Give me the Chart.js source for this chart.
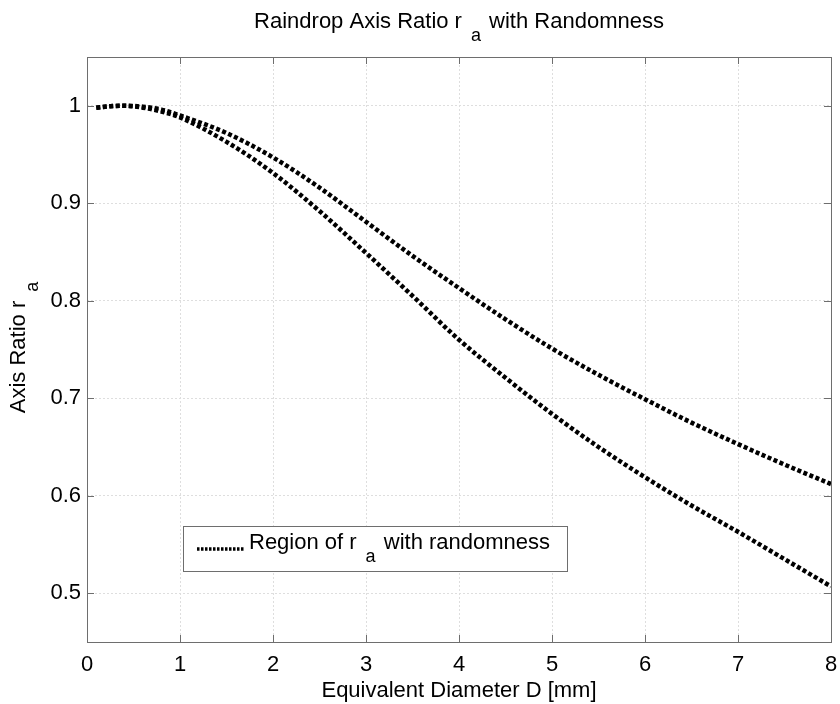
<!DOCTYPE html>
<html>
<head>
<meta charset="utf-8">
<script src="https://cdn.jsdelivr.net/npm/chart.js@4.4.1/dist/chart.umd.min.js"></script>
<style>
  html, body { margin: 0; padding: 0; background: #ffffff; }
  #wrap { width: 840px; height: 704px; }
</style>
</head>
<body>
<div id="wrap"><canvas id="c" width="840" height="704"></canvas></div>
<script>
// Equivalent diameter D [mm]
const diam = [0.1, 0.25, 0.4, 0.6, 0.8, 1.0, 1.5, 2.0, 2.5, 3.0, 3.5, 4.0, 4.5, 5.0, 5.5, 6.0, 6.5, 7.0, 7.5, 8.0];
// Upper bound of the axis ratio r_a
const upperRa = [0.998, 0.9995, 1.000, 0.999, 0.996, 0.990, 0.972, 0.947, 0.916, 0.881, 0.846, 0.813, 0.781, 0.751, 0.724, 0.699, 0.675, 0.653, 0.632, 0.612];
// Lower bound of the axis ratio r_a
const lowerRa = [0.998, 0.9995, 1.000, 0.998, 0.994, 0.988, 0.963, 0.931, 0.892, 0.849, 0.805, 0.760, 0.721, 0.684, 0.650, 0.619, 0.590, 0.563, 0.535, 0.507];

const xTicks = [0, 1, 2, 3, 4, 5, 6, 7, 8];
const yTicks = [0.5, 0.6, 0.7, 0.8, 0.9, 1];

const FONT = '"Liberation Sans", Arial, Helvetica, sans-serif';
const FS = 22;        // main text size
const SUB_FS = 18;    // subscript size
const SUB_DY = 13;    // subscript baseline drop
const SUB_PRE = 9;    // space before a subscript
const SUB_POST = 2;   // space after a subscript

function pts(xs, ys) { return xs.map((x, i) => ({ x: x, y: ys[i] })); }

const lineStyle = {
  borderColor: '#000000',
  borderWidth: 4.5,
  borderDash: [4, 2.5],
  pointRadius: 0,
  fill: false,
  cubicInterpolationMode: 'monotone'
};

// Text made of normal and subscript runs (TeX-like r_a)
function layoutRuns(ctx, runs) {
  let w = 0;
  const out = [];
  runs.forEach((r, i) => {
    if (r.sub) w += SUB_PRE;
    ctx.font = (r.sub ? SUB_FS : FS) + 'px ' + FONT;
    out.push({ t: r.t, sub: !!r.sub, x: w });
    w += ctx.measureText(r.t).width;
    if (r.sub && i < runs.length - 1) w += SUB_POST;
  });
  return { items: out, width: w };
}
function drawRuns(ctx, runs, x, y) {
  const l = layoutRuns(ctx, runs);
  ctx.textAlign = 'left';
  ctx.textBaseline = 'alphabetic';
  l.items.forEach(it => {
    ctx.font = (it.sub ? SUB_FS : FS) + 'px ' + FONT;
    ctx.fillText(it.t, x + it.x, it.sub ? y + SUB_DY : y);
  });
  return l.width;
}
function runsWidth(ctx, runs) { return layoutRuns(ctx, runs).width; }

const titleRuns = [{ t: 'Raindrop Axis Ratio r' }, { t: 'a', sub: true }, { t: ' with Randomness' }];
const yTitleRuns = [{ t: 'Axis Ratio r' }, { t: 'a', sub: true }];
const xTitleRuns = [{ t: 'Equivalent Diameter D [mm]' }];
const legendRuns = [{ t: 'Region of r' }, { t: 'a', sub: true }, { t: ' with randomness' }];

const decor = {
  id: 'decor',
  afterDraw(chart) {
    const ctx = chart.ctx;
    const a = chart.chartArea;
    const xs = chart.scales.x, ys = chart.scales.y;
    ctx.save();
    // axes box
    ctx.strokeStyle = '#6e6e6e';
    ctx.lineWidth = 1;
    ctx.setLineDash([]);
    ctx.strokeRect(Math.round(a.left) + 0.5, Math.round(a.top) + 0.5,
                   Math.round(a.right - a.left), Math.round(a.bottom - a.top));
    // inward tick marks on all four sides
    const tl = 7;
    ctx.beginPath();
    xTicks.forEach(v => {
      const px = Math.round(xs.getPixelForValue(v)) + 0.5;
      ctx.moveTo(px, a.bottom); ctx.lineTo(px, a.bottom - tl);
      ctx.moveTo(px, a.top); ctx.lineTo(px, a.top + tl);
    });
    yTicks.forEach(v => {
      const py = Math.round(ys.getPixelForValue(v)) + 0.5;
      ctx.moveTo(a.left, py); ctx.lineTo(a.left + tl, py);
      ctx.moveTo(a.right, py); ctx.lineTo(a.right - tl, py);
    });
    ctx.stroke();

    ctx.fillStyle = '#000000';
    const cx = (a.left + a.right) / 2;
    // title
    let w = runsWidth(ctx, titleRuns);
    drawRuns(ctx, titleRuns, cx - w / 2, 28);
    // x axis title
    w = runsWidth(ctx, xTitleRuns);
    drawRuns(ctx, xTitleRuns, cx - w / 2, 697);
    // y axis title (rotated)
    ctx.save();
    ctx.translate(25, (a.top + a.bottom) / 2 - 2);
    ctx.rotate(-Math.PI / 2);
    w = runsWidth(ctx, yTitleRuns);
    drawRuns(ctx, yTitleRuns, -w / 2, 0);
    ctx.restore();

    // legend box
    const lx = 183.5, ly = 526.5, lw = 384, lh = 45;
    ctx.fillStyle = '#ffffff';
    ctx.fillRect(lx, ly, lw, lh);
    ctx.strokeStyle = '#6e6e6e';
    ctx.lineWidth = 1;
    ctx.strokeRect(lx, ly, lw, lh);
    ctx.strokeStyle = '#000000';
    ctx.lineWidth = 3.5;
    ctx.setLineDash([2.5, 1.5]);
    ctx.beginPath();
    ctx.moveTo(197, 549); ctx.lineTo(244, 549);
    ctx.stroke();
    ctx.setLineDash([]);
    ctx.fillStyle = '#000000';
    drawRuns(ctx, legendRuns, 249, 549);
    ctx.restore();
  }
};

new Chart(document.getElementById('c'), {
  type: 'line',
  data: {
    datasets: [
      Object.assign({ label: 'Region of r_a with randomness', data: pts(diam, upperRa) }, lineStyle),
      Object.assign({ label: 'lower', data: pts(diam, lowerRa) }, lineStyle)
    ]
  },
  options: {
    responsive: false,
    animation: false,
    devicePixelRatio: 1,
    layout: { padding: { top: 57, right: 9, left: 0, bottom: 0 } },
    plugins: {
      legend: { display: false },
      title: { display: false },
      tooltip: { enabled: false }
    },
    scales: {
      x: {
        type: 'linear',
        min: 0, max: 8,
        afterBuildTicks: s => { s.ticks = xTicks.map(v => ({ value: v })); },
        afterFit: s => { s.height = 62; s.paddingLeft = 0; s.paddingRight = 0; },
        grid: { color: '#dedede', drawTicks: false, lineWidth: 1 },
        border: { display: false, dash: [2, 2] },
        ticks: { color: '#000', font: { family: FONT, size: FS }, padding: 10, maxRotation: 0,
                 callback: v => String(v) }
      },
      y: {
        type: 'linear',
        min: 0.45, max: 1.05,
        afterBuildTicks: s => { s.ticks = yTicks.map(v => ({ value: v })); },
        afterFit: s => { s.width = 87; },
        grid: { color: '#dedede', drawTicks: false, lineWidth: 1 },
        border: { display: false, dash: [2, 2] },
        ticks: { color: '#000', font: { family: FONT, size: FS }, padding: 6,
                 callback: v => String(Math.round(v * 10) / 10) }
      }
    }
  },
  plugins: [decor]
});
</script>
</body>
</html>
